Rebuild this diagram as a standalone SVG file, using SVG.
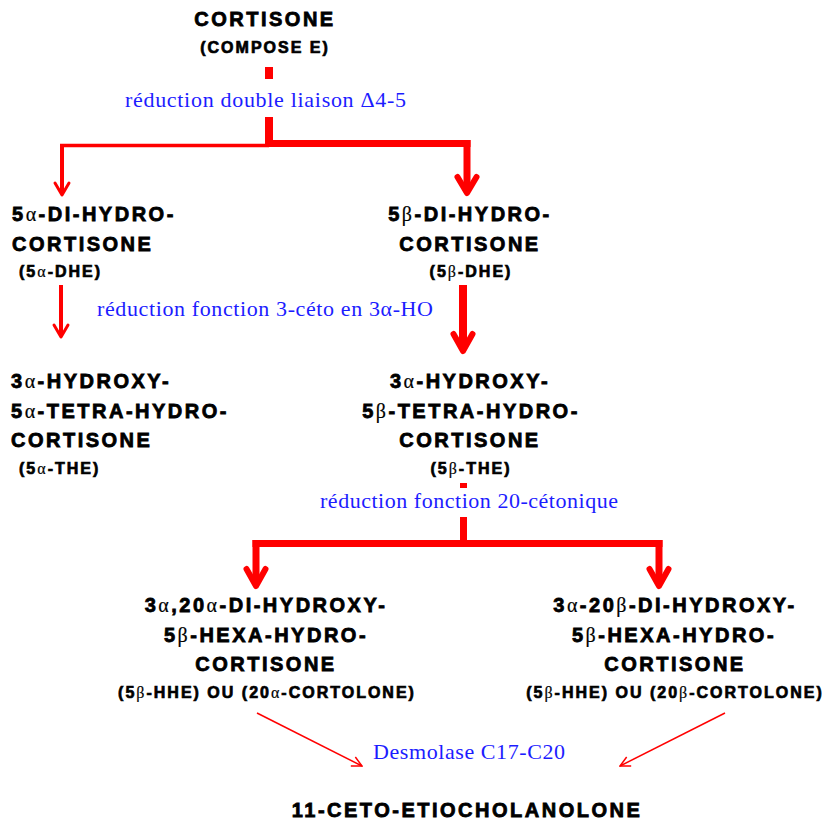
<svg xmlns="http://www.w3.org/2000/svg" width="829" height="821" viewBox="0 0 829 821">
  <style>
    .t { font-family: "Liberation Sans", Arial, sans-serif; font-weight: bold; font-size: 20px; fill: #000; letter-spacing: 2.5px; stroke: #000; stroke-width: 0.8px; }
    .s { font-size: 16px; letter-spacing: 2px; stroke-width: 0.7px; }
    .c { text-anchor: middle; }
    .g { font-family: "Liberation Serif", "Times New Roman", serif; font-weight: normal; stroke-width: 0.2px; }
    .b { font-family: "Liberation Serif", "Times New Roman", serif; font-size: 22px; fill: #1c1cff; }
    .thick { stroke: #ff0000; stroke-width: 7; fill: none; }
    .thin { stroke: #ff0000; stroke-width: 4; fill: none; }
    .head { stroke: #ff0000; fill: none; stroke-linecap: round; stroke-linejoin: round; }
    .diag { stroke: #ff0000; stroke-width: 1.5; fill: none; }
  </style>
  <defs>
    <marker id="open" viewBox="0 0 12 12" refX="11" refY="6" markerWidth="12" markerHeight="12" markerUnits="userSpaceOnUse" orient="auto">
      <path d="M1,1 L11,6 L1,11" fill="none" stroke="#ff0000" stroke-width="1.5"/>
    </marker>
  </defs>

  <!-- connectors -->
  <g id="connectors">
    <!-- cortisone to the two dihydro forms -->
    <rect x="265" y="67" width="8" height="12" fill="#ff0000"/>
    <line class="thick" x1="269" y1="117" x2="269" y2="147" style="stroke-width:8"/>
    <line class="thick" x1="269" y1="143.5" x2="470.5" y2="143.5"/>
    <line class="thick" x1="467" y1="140" x2="467" y2="190"/>
    <polyline class="head" points="457.5,177 467,193 476.5,177" style="stroke-width:6"/>
    <line style="stroke:#ff0000;stroke-width:3.5" x1="60" y1="145.5" x2="269" y2="145.5"/>
    <line class="thin" x1="62" y1="144" x2="62" y2="194"/>
    <polyline class="head" points="55,183 62,195 69,183" style="stroke-width:3"/>

    <!-- dihydro to tetrahydro -->
    <line class="thin" x1="61" y1="285" x2="61" y2="336"/>
    <polyline class="head" points="54,325 61,337 68,325" style="stroke-width:3"/>
    <line class="thick" x1="463" y1="285" x2="463" y2="348" style="stroke-width:8"/>
    <polyline class="head" points="453.5,334 463,351 472.5,334" style="stroke-width:6"/>

    <!-- tetrahydro to the two hexahydro forms -->
    <rect x="460" y="483" width="7" height="5" fill="#ff0000"/>
    <line class="thick" x1="463.5" y1="517" x2="463.5" y2="544"/>
    <line class="thick" x1="252.5" y1="543.5" x2="662.5" y2="543.5"/>
    <line class="thick" x1="256" y1="540" x2="256" y2="582"/>
    <polyline class="head" points="246.5,569 256,586 265.5,569" style="stroke-width:6"/>
    <line class="thick" x1="659" y1="540" x2="659" y2="582"/>
    <polyline class="head" points="649.5,569 659,586 668.5,569" style="stroke-width:6"/>

    <!-- desmolase -->
    <line class="diag" x1="257" y1="713" x2="362" y2="766" marker-end="url(#open)"/>
    <line class="diag" x1="725" y1="713" x2="620" y2="766" marker-end="url(#open)"/>
  </g>

  <!-- reaction labels -->
  <g id="labels">
    <text class="b" x="125" y="107" textLength="281" lengthAdjust="spacing">réduction  double liaison Δ4-5</text>
    <text class="b" x="97" y="316" textLength="336" lengthAdjust="spacing">réduction fonction 3-céto en 3α-HO</text>
    <text class="b" x="320" y="508" textLength="298" lengthAdjust="spacing">réduction fonction 20-cétonique</text>
    <text class="b" x="373" y="759" textLength="192" lengthAdjust="spacing">Desmolase C17-C20</text>
  </g>

  <g id="cortisone">
    <text class="t c" x="265" y="26">CORTISONE</text>
    <text class="t s c" x="265" y="53">(COMPOSE E)</text>
  </g>

  <g id="dhe-alpha">
    <text class="t" x="12" y="221">5<tspan class="g">α</tspan>-DI-HYDRO-</text>
    <text class="t" x="12" y="251">CORTISONE</text>
    <text class="t s" x="19" y="277">(5<tspan class="g">α</tspan>-DHE)</text>
  </g>

  <g id="dhe-beta">
    <text class="t c" x="470" y="221">5<tspan class="g">β</tspan>-DI-HYDRO-</text>
    <text class="t c" x="470" y="251">CORTISONE</text>
    <text class="t s c" x="471" y="277">(5<tspan class="g">β</tspan>-DHE)</text>
  </g>

  <g id="the-alpha">
    <text class="t" x="11" y="388">3<tspan class="g">α</tspan>-HYDROXY-</text>
    <text class="t" x="11" y="418">5<tspan class="g">α</tspan>-TETRA-HYDRO-</text>
    <text class="t" x="11" y="447">CORTISONE</text>
    <text class="t s" x="19" y="474">(5<tspan class="g">α</tspan>-THE)</text>
  </g>

  <g id="the-beta">
    <text class="t c" x="470" y="388">3<tspan class="g">α</tspan>-HYDROXY-</text>
    <text class="t c" x="471" y="418">5<tspan class="g">β</tspan>-TETRA-HYDRO-</text>
    <text class="t c" x="470" y="447">CORTISONE</text>
    <text class="t s c" x="471" y="474">(5<tspan class="g">β</tspan>-THE)</text>
  </g>

  <g id="cortolone-alpha">
    <text class="t c" x="266" y="612">3<tspan class="g">α</tspan>,20<tspan class="g">α</tspan>-DI-HYDROXY-</text>
    <text class="t c" x="266" y="642">5<tspan class="g">β</tspan>-HEXA-HYDRO-</text>
    <text class="t c" x="266" y="671">CORTISONE</text>
    <text class="t s c" x="267" y="698">(5<tspan class="g">β</tspan>-HHE) OU  (20<tspan class="g">α</tspan>-CORTOLONE)</text>
  </g>

  <g id="cortolone-beta">
    <text class="t c" x="675" y="612">3<tspan class="g">α</tspan>-20<tspan class="g">β</tspan>-DI-HYDROXY-</text>
    <text class="t c" x="674" y="642">5<tspan class="g">β</tspan>-HEXA-HYDRO-</text>
    <text class="t c" x="675" y="671">CORTISONE</text>
    <text class="t s c" x="675" y="698">(5<tspan class="g">β</tspan>-HHE) OU  (20<tspan class="g">β</tspan>-CORTOLONE)</text>
  </g>

  <g id="etiocholanolone">
    <text class="t c" x="467" y="817">11-CETO-ETIOCHOLANOLONE</text>
  </g>
</svg>
